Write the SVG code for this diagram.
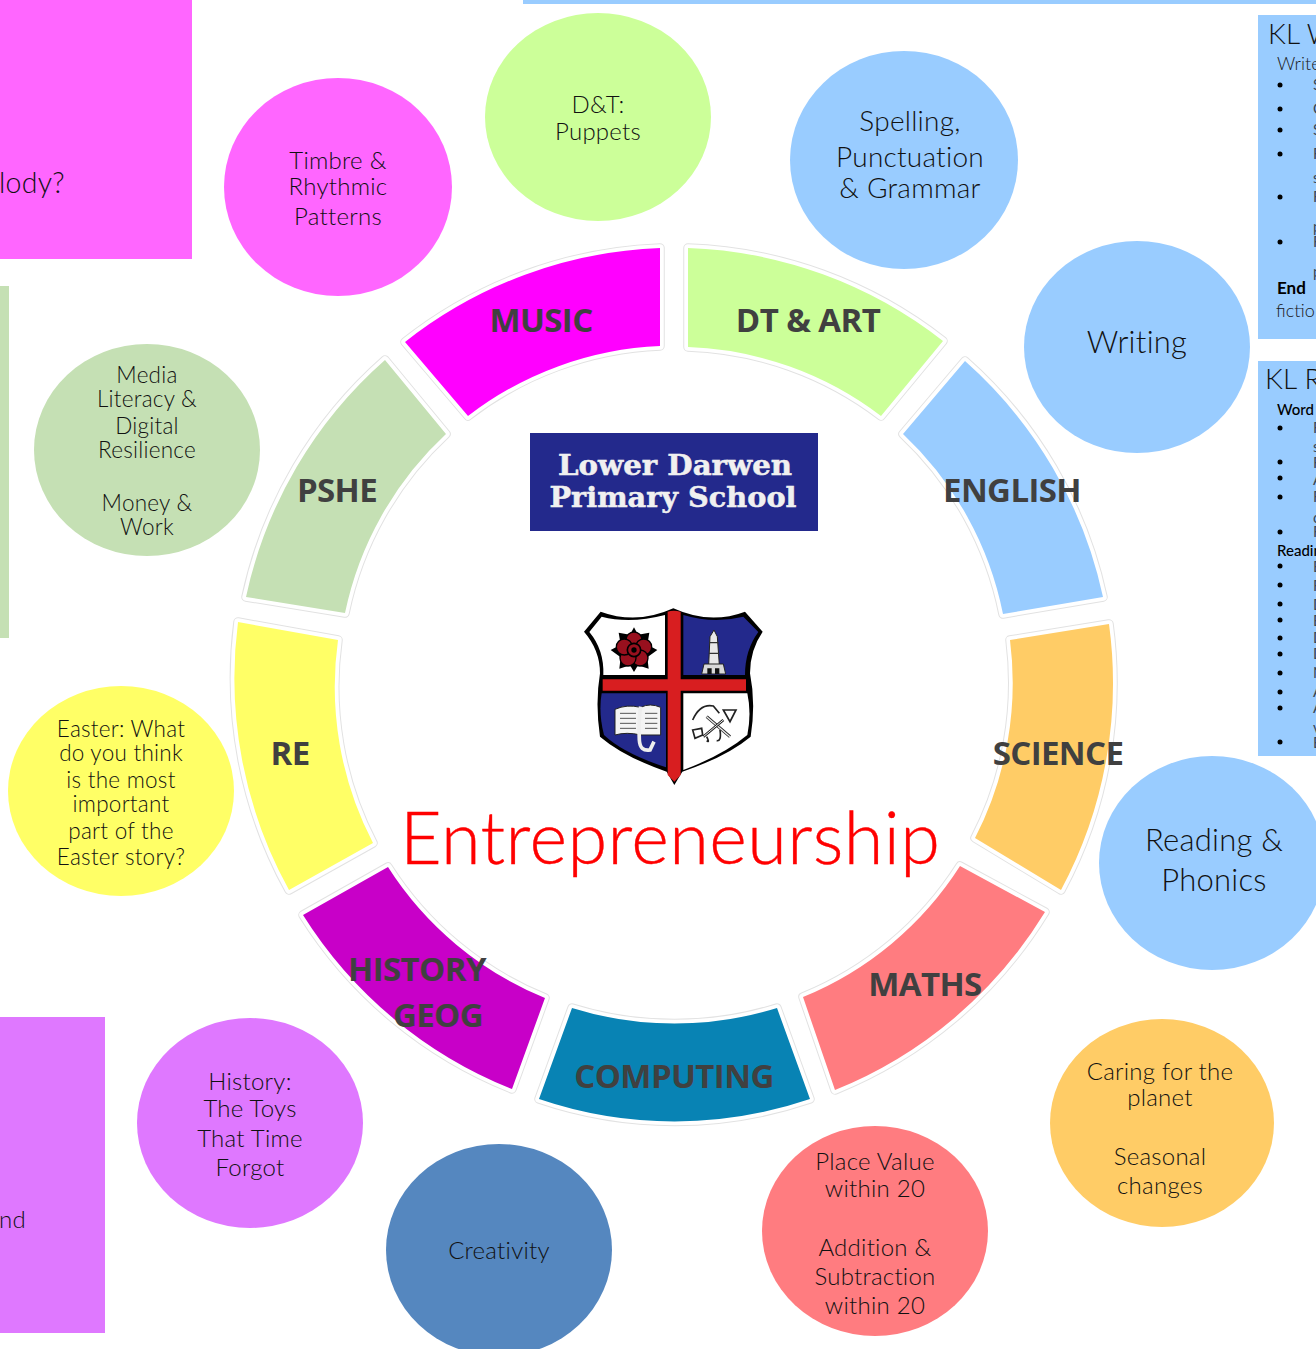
<svg xmlns="http://www.w3.org/2000/svg" width="1316" height="1349" viewBox="0 0 1316 1349">
<style>
.b{font-family:"Lato","Noto Sans",sans-serif;font-weight:300;fill:#111;text-anchor:middle;letter-spacing:.25px}
.s{font-size:24px}.x{font-size:22.5px}.m{font-size:28px}.l{font-size:31px}
.st{text-anchor:start}
.h{font-family:"Open Sans","Noto Sans",sans-serif;font-weight:700;font-size:33px;fill:#404040;text-anchor:middle;letter-spacing:-.6px}
.o1{fill:none;stroke:#e2e2e2;stroke-width:9.5;stroke-linejoin:round}
.o2{fill:none;stroke:#fff;stroke-width:7.5;stroke-linejoin:round}
.t{font-family:"Lato",sans-serif;font-weight:300;fill:#1a1a1a;font-size:18px}
.k{font-family:"Lato",sans-serif;fill:#000;font-size:15px;font-weight:700}
.f{font-family:"Lato",sans-serif;fill:#3a4656;font-size:15px}
.d{fill:#000}
.ls{font-family:"DejaVu Serif",serif;font-weight:700;font-size:27px;fill:#f0f0f0;text-anchor:middle}
</style>
<defs>
<path id="p-dt" d="M688 248A438 438 0 0 1 943 341L881 416A338 338 0 0 0 688 347Z"/>
<path id="p-english" d="M965 361A438 438 0 0 1 1103 597L1003 614A338 338 0 0 0 903 434Z"/>
<path id="p-science" d="M1109 624A438 438 0 0 1 1061 890L975 838A338 338 0 0 0 1010 640Z"/>
<path id="p-maths" d="M1045 912A438 438 0 0 1 835 1090L803 997A338 338 0 0 0 960 866Z"/>
<path id="p-computing" d="M810 1099A420 420 0 0 1 539 1099L572 1008A345 345 0 0 0 777 1008Z"/>
<path id="p-history" d="M512 1089A438 438 0 0 1 303 915L388 867A338 338 0 0 0 545 998Z"/>
<path id="p-re" d="M289 890A438 438 0 0 1 238 622L338 640A338 338 0 0 0 373 843Z"/>
<path id="p-pshe" d="M246 597A438 438 0 0 1 385 360L446 434A338 338 0 0 0 345 613Z"/>
<path id="p-music" d="M405 342A438 438 0 0 1 660 248V346A338 338 0 0 0 468 416Z"/>
</defs>
<rect width="1316" height="1349" fill="#fff"/>
<g id="panels">
<rect x="523" y="0" width="793" height="4" fill="#99ccff"/>
<rect x="0" y="0" width="192" height="259" fill="#ff66ff"/>
<text x="-1" y="193" class="b st" style="font-size:28.5px">lody?</text>
<rect x="0" y="286" width="9" height="352" fill="#c5e0b4"/>
<rect x="0" y="1017" width="105" height="316" fill="#df78ff"/>
<text x="-1" y="1228" class="b st" style="font-size:24px">nd</text>
<rect x="1258" y="15" width="58" height="324" fill="#99ccff"/>
<text x="1268" y="44" class="b st" style="font-size:28px">KL W</text>
<text x="1277" y="70" class="t">Write</text>
<text x="1277" y="294" class="k" style="font-size:17px">End</text>
<text x="1276" y="317" class="t">fictio</text>
<rect x="1258" y="361" width="58" height="395" fill="#99ccff"/>
<text x="1265" y="389" class="b st" style="font-size:28px">KL R</text>
<text x="1277" y="415" class="k" style="font-weight:500">Word</text>
<text x="1277" y="556" class="k" style="font-weight:500">Readin</text>
<g class="d">
<circle cx="1280" cy="85" r="2.5"/><circle cx="1280" cy="109" r="2.5"/><circle cx="1280" cy="130" r="2.5"/><circle cx="1280" cy="154" r="2.5"/><circle cx="1280" cy="197" r="2.5"/><circle cx="1280" cy="242" r="2.5"/>
<circle cx="1280" cy="428" r="2.5"/><circle cx="1280" cy="462" r="2.5"/><circle cx="1280" cy="478" r="2.5"/><circle cx="1280" cy="497" r="2.5"/><circle cx="1280" cy="532" r="2.5"/><circle cx="1280" cy="566" r="2.5"/><circle cx="1280" cy="585" r="2.5"/><circle cx="1280" cy="604" r="2.5"/><circle cx="1280" cy="620" r="2.5"/><circle cx="1280" cy="638" r="2.5"/><circle cx="1280" cy="654" r="2.5"/><circle cx="1280" cy="673" r="2.5"/><circle cx="1280" cy="692" r="2.5"/><circle cx="1280" cy="708" r="2.5"/><circle cx="1280" cy="742" r="2.5"/>
</g>
<g class="f">
<text x="1313" y="90">S</text><text x="1313" y="114">C</text><text x="1313" y="135">S</text><text x="1313" y="159">F</text><text x="1313" y="183">s</text><text x="1313" y="202">F</text><text x="1313" y="232">p</text><text x="1313" y="247">F</text><text x="1313" y="277">p</text>
<text x="1313" y="433">F</text><text x="1313" y="452">s</text><text x="1313" y="468">F</text><text x="1313" y="485">A</text><text x="1313" y="502">F</text><text x="1313" y="523">c</text><text x="1313" y="537">F</text>
<text x="1313" y="572">E</text><text x="1313" y="591">F</text><text x="1313" y="610">D</text><text x="1313" y="626">E</text><text x="1313" y="643">D</text><text x="1313" y="659">D</text><text x="1313" y="678">N</text><text x="1313" y="697">A</text><text x="1313" y="713">A</text><text x="1313" y="733">v</text><text x="1313" y="748">E</text>
</g>
</g>
<g id="connectors"></g>
<g id="ring">
<g id="seg-dt" fill="#ccff99"><use href="#p-dt" class="o1"/><use href="#p-dt" class="o2"/><use href="#p-dt"/></g>
<g id="seg-english" fill="#99ccff"><use href="#p-english" class="o1"/><use href="#p-english" class="o2"/><use href="#p-english"/></g>
<g id="seg-science" fill="#ffcc66"><use href="#p-science" class="o1"/><use href="#p-science" class="o2"/><use href="#p-science"/></g>
<g id="seg-maths" fill="#ff7c80"><use href="#p-maths" class="o1"/><use href="#p-maths" class="o2"/><use href="#p-maths"/></g>
<g id="seg-computing" fill="#0883b4"><use href="#p-computing" class="o1"/><use href="#p-computing" class="o2"/><use href="#p-computing"/></g>
<g id="seg-history" fill="#c800c8"><use href="#p-history" class="o1"/><use href="#p-history" class="o2"/><use href="#p-history"/></g>
<g id="seg-re" fill="#ffff66"><use href="#p-re" class="o1"/><use href="#p-re" class="o2"/><use href="#p-re"/></g>
<g id="seg-pshe" fill="#c5e0b4"><use href="#p-pshe" class="o1"/><use href="#p-pshe" class="o2"/><use href="#p-pshe"/></g>
<g id="seg-music" fill="#ff00ff"><use href="#p-music" class="o1"/><use href="#p-music" class="o2"/><use href="#p-music"/></g>
</g>
<g id="ring-labels">
<text x="541" y="332" class="h">MUSIC</text>
<text x="808" y="332" class="h">DT &amp; ART</text>
<text x="1012" y="502" class="h">ENGLISH</text>
<text x="1058" y="765" class="h">SCIENCE</text>
<text x="925" y="996" class="h">MATHS</text>
<text x="674" y="1088" class="h">COMPUTING</text>
<text x="417" y="981" class="h">HISTORY</text>
<text x="438" y="1027" class="h">GEOG</text>
<text x="290" y="765" class="h">RE</text>
<text x="337" y="502" class="h">PSHE</text>
</g>
<g id="node-timbre"><ellipse cx="338" cy="187" rx="114" ry="109" fill="#ff66ff"/>
<text class="b s" x="338" y="169">Timbre &amp;</text><text class="b s" x="338" y="195">Rhythmic</text><text class="b s" x="338" y="225">Patterns</text></g>
<g id="node-dt"><ellipse cx="598" cy="117" rx="113" ry="104" fill="#ccff99"/>
<text class="b s" x="598" y="113">D&amp;T:</text><text class="b s" x="598" y="140">Puppets</text></g>
<g id="node-spelling"><ellipse cx="904" cy="160" rx="114" ry="109" fill="#99ccff"/>
<text class="b m" x="910" y="131">Spelling,</text><text class="b m" x="910" y="167">Punctuation</text><text class="b m" x="910" y="198">&amp; Grammar</text></g>
<g id="node-writing"><ellipse cx="1137" cy="347" rx="113" ry="106" fill="#99ccff"/>
<text class="b l" x="1137" y="353">Writing</text></g>
<g id="node-reading"><ellipse cx="1212" cy="863" rx="113" ry="107" fill="#99ccff"/>
<text class="b l" x="1214" y="851">Reading &amp;</text><text class="b l" x="1214" y="891">Phonics</text></g>
<g id="node-caring"><ellipse cx="1162" cy="1123" rx="112" ry="104" fill="#ffcc66"/>
<text class="b s" x="1160" y="1080">Caring for the</text><text class="b s" x="1160" y="1106">planet</text><text class="b s" x="1160" y="1165">Seasonal</text><text class="b s" x="1160" y="1194">changes</text></g>
<g id="node-place"><ellipse cx="875" cy="1231" rx="113" ry="105" fill="#ff7c80"/>
<text class="b s" x="875" y="1170">Place Value</text><text class="b s" x="875" y="1197">within 20</text><text class="b s" x="875" y="1256">Addition &amp;</text><text class="b s" x="875" y="1285">Subtraction</text><text class="b s" x="875" y="1314">within 20</text></g>
<g id="node-creativity"><ellipse cx="499" cy="1250" rx="113" ry="106" fill="#5587bf"/>
<text class="b s" x="499" y="1259">Creativity</text></g>
<g id="node-history"><ellipse cx="250" cy="1123" rx="113" ry="105" fill="#df78ff"/>
<text class="b s" x="250" y="1090">History:</text><text class="b s" x="250" y="1117">The Toys</text><text class="b s" x="250" y="1147">That Time</text><text class="b s" x="250" y="1176">Forgot</text></g>
<g id="node-easter"><ellipse cx="121" cy="791" rx="113" ry="105" fill="#ffff66"/>
<text class="b x" x="121" y="737">Easter: What</text><text class="b x" x="121" y="761">do you think</text><text class="b x" x="121" y="788">is the most</text><text class="b x" x="121" y="812">important</text><text class="b x" x="121" y="839">part of the</text><text class="b x" x="121" y="865">Easter story?</text></g>
<g id="node-media"><ellipse cx="147" cy="450" rx="113" ry="106" fill="#c5e0b4"/>
<text class="b x" x="147" y="383">Media</text><text class="b x" x="147" y="407">Literacy &amp;</text><text class="b x" x="147" y="434">Digital</text><text class="b x" x="147" y="458">Resilience</text><text class="b x" x="147" y="511">Money &amp;</text><text class="b x" x="147" y="535">Work</text></g>
<g id="centre">
<rect x="530" y="433" width="288" height="98" fill="#23298c"/>
<text x="675" y="475" class="ls" textLength="234" lengthAdjust="spacingAndGlyphs" stroke="#f0f0f0" stroke-width=".5">Lower Darwen</text>
<text x="673" y="507" class="ls" textLength="247" lengthAdjust="spacingAndGlyphs" stroke="#f0f0f0" stroke-width=".5">Primary School</text>
<text x="670" y="864" text-anchor="middle" font-family="Lato,sans-serif" font-weight="300" font-size="72" fill="#ff0000" stroke="#ff0000" stroke-width=".4" textLength="540">Entrepreneurship</text>
</g>
<g id="crest" transform="translate(510 420) scale(.33333)">
<path d="M490 565Q380 615 272 575L222 635Q270 690 270 760Q255 850 270 950Q340 1010 470 1055L493 1095L517 1055Q650 1010 722 950Q738 850 720 760Q720 690 758 635L705 575Q600 615 490 565Z" fill="#000"/>
<path d="M465 585Q360 612 275 590L238 636Q283 690 280 765H465Z" fill="#fff"/>
<path d="M520 585Q610 612 700 590L745 636Q705 690 705 765H520Z" fill="#23298c"/>
<path d="M275 820H468V1042Q340 1000 282 945Q265 880 275 820Z" fill="#23298c"/>
<path d="M520 820H712Q725 880 712 945Q640 1005 520 1050Z" fill="#fff"/>
<path d="M473 575Q490 570 512 575V778H708V812H512V1065L493 1085L473 1065V812H278V778H473Z" fill="#d81e20"/>
<g transform="translate(372 690)">
<path d="M0-68L12-46 46-52 40-16 70 0 40 22 44 56 12 46 0 66-12 46-44 56-40 22-70 0-40-16-46-52-12-46Z" fill="#000"/>
<g fill="#98101e" stroke="#000" stroke-width="4"><circle cy="-30" r="24"/><circle cx="29" cy="-9" r="24"/><circle cx="18" cy="24" r="24"/><circle cx="-18" cy="24" r="24"/><circle cx="-29" cy="-9" r="24"/></g>
<circle r="20" fill="#98101e" stroke="#000" stroke-width="5"/><circle r="8" fill="#000"/>
</g>
<g>
<path d="M600 650L612 630L622 650L628 735H596Z" fill="#e8e8e8" stroke="#222" stroke-width="3"/>
<path d="M598 668H626M597 700H628" stroke="#333" stroke-width="4"/>
<path d="M575 762L582 732H640L647 762Z" fill="#d8d8d8" stroke="#222" stroke-width="3"/>
<path d="M592 762V745H605V762ZM615 762V745H628V762Z" fill="#111"/>
</g>
<g>
<path d="M315 868Q350 852 392 862Q420 848 452 862V945H392Q350 935 315 945Z" fill="#f4f4f4" stroke="#222" stroke-width="3"/>
<path d="M330 880H378M330 895H378M330 910H378M330 925H378M405 880H442M405 895H442M405 910H442M405 925H442" stroke="#555" stroke-width="3"/>
<path d="M392 860Q385 900 388 960Q390 995 420 990L432 965" fill="none" stroke="#eee" stroke-width="11"/>
</g>
<g fill="none" stroke="#222" stroke-width="5">
<path d="M548 900Q570 850 610 858L628 880"/>
<path d="M590 890L660 950" stroke-width="9"/><path d="M590 890L660 950" stroke="#eee" stroke-width="4"/>
<path d="M640 900L580 950" stroke-width="8"/><path d="M640 900L580 950" stroke="#eee" stroke-width="3"/>
<path d="M640 870L678 870L660 905Z" fill="#fff"/>
<path d="M548 930L575 925L578 945L555 955Z" fill="#fff"/>
<path d="M590 950Q600 970 590 962M630 930Q635 965 620 962"/>
</g>
</g>
</svg>
